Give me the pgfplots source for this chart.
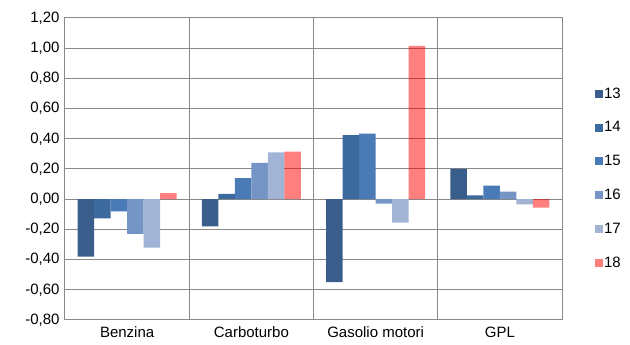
\documentclass[border=0pt]{standalone}
\usepackage{pgfplots}
\pgfplotsset{compat=1.18}
\usepackage{fontspec}
\setmainfont{Liberation Sans}

\definecolor{cA}{HTML}{3A5E8C}
\definecolor{cB}{HTML}{3D6A9E}
\definecolor{cC}{HTML}{4A7BB7}
\definecolor{cD}{HTML}{7595C7}
\definecolor{cE}{HTML}{A2B4D6}
\definecolor{gridgray}{HTML}{888888}

\begin{document}
\begin{tikzpicture}
\useasboundingbox (-65pt,-25pt) rectangle (565pt,320pt);
\begin{axis}[
  scale only axis,
  width=497pt, height=302pt,
  ybar=0pt, bar width=0.133,
  xmin=-0.5, xmax=3.5,
  ymin=-0.8, ymax=1.2,
  ytick={-0.8,-0.6,...,1.21},
  xtick={0,1,2,3},
  xticklabels={Benzina,Carboturbo,Gasolio motori,GPL},
  minor xtick={0.5,1.5,2.5},
  xminorgrids, ymajorgrids,
  major tick length=0pt, minor tick length=0pt,
  grid style={gridgray, line width=1pt},
  minor grid style={gridgray, line width=1pt},
  axis line style={gridgray, line width=1pt},
  tick label style={font=\fontsize{15}{17}\selectfont},
  xticklabel style={yshift=-3pt},
  yticklabel style={xshift=-2pt},
  /pgf/number format/assume math mode=true,
  yticklabel={\pgfmathprintnumber[use comma,fixed,fixed zerofill,precision=2]{\tick}},
  legend style={draw=none, at={(1.06,0.469)}, anchor=west,
    font=\fontsize{15}{17}\selectfont, row sep=20pt,
    nodes={inner sep=1pt}},
  legend cell align=left,
  legend image code/.code={\fill[#1,draw=none] (0pt,-4pt) rectangle (8pt,4pt);},
]
\addplot[fill=cA,draw=none] coordinates {(0,-0.38) (1,-0.18) (2,-0.55) (3,0.20)};
\addlegendentry{13}
\addplot[fill=cB,draw=none] coordinates {(0,-0.127) (1,0.035) (2,0.425) (3,0.025)};
\addlegendentry{14}
\addplot[fill=cC,draw=none] coordinates {(0,-0.08) (1,0.14) (2,0.435) (3,0.09)};
\addlegendentry{15}
\addplot[fill=cD,draw=none] coordinates {(0,-0.23) (1,0.24) (2,-0.03) (3,0.05)};
\addlegendentry{16}
\addplot[fill=cE,draw=none] coordinates {(0,-0.32) (1,0.31) (2,-0.155) (3,-0.035)};
\addlegendentry{17}
\addplot[fill=red,fill opacity=0.5,draw=none] coordinates {(0,0.04) (1,0.315) (2,1.015) (3,-0.055)};
\addlegendentry{18}
\end{axis}
\end{tikzpicture}
\end{document}
